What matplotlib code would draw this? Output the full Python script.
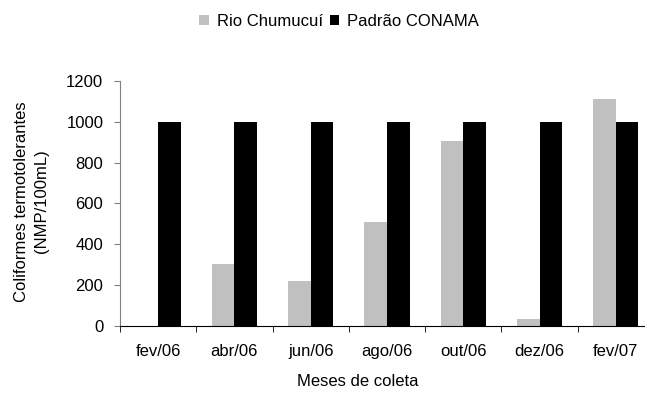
import numpy as np
import matplotlib
matplotlib.use('Agg')
import matplotlib.pyplot as plt

plt.rcParams['font.family'] = ['Liberation Sans', 'DejaVu Sans']

# dados
meses = ['fev/06', 'abr/06', 'jun/06', 'ago/06', 'out/06', 'dez/06', 'fev/07']
rio_chumucui = [0, 300, 220, 510, 905, 30, 1110]
padrao_conama = [1000, 1000, 1000, 1000, 1000, 1000, 1000]
y_ticks = [0, 200, 400, 600, 800, 1000, 1200]

CINZA = '#C0C0C0'
PRETO = '#000000'
FS = 12

fig = plt.figure(figsize=(6.45, 3.99), dpi=100)
ax = fig.add_axes([0.186, 0.184, 0.828, 0.613])

x = np.arange(len(meses))
w = 0.295
ax.bar(x - w / 2, rio_chumucui, w, color=CINZA, label='Rio Chumucuí')
ax.bar(x + w / 2, padrao_conama, w, color=PRETO, label='Padrão CONAMA')

ax.set_xlim(-0.5, len(meses) - 0.5)
ax.set_ylim(0, 1200)
ax.set_yticks(y_ticks)
ax.set_xticks(x)
ax.set_xticklabels(meses, fontsize=FS)
ax.tick_params(axis='x', length=0, pad=13)
ax.set_xticks(np.arange(len(meses) + 1) - 0.5, minor=True)
ax.tick_params(axis='x', which='minor', length=4, direction='out', color=PRETO)
ax.tick_params(axis='y', length=4, direction='out', labelsize=FS, color='#808080', pad=8)

for s in ['top', 'right']:
    ax.spines[s].set_visible(False)
ax.spines['left'].set_color('#808080')
ax.spines['bottom'].set_color(PRETO)

ax.set_ylabel('Coliformes termotolerantes\n(NMP/100mL)', fontsize=FS, linespacing=1.45)
ax.yaxis.set_label_coords(-0.132, 0.508)
ax.set_xlabel('Meses de coleta', fontsize=FS)
ax.xaxis.set_label_coords(0.446, -0.228)
ax.xaxis.label.set_va('center')

fig.legend(loc='center', bbox_to_anchor=(0.526, 0.947),
           ncol=2, frameon=False, fontsize=FS,
           handlelength=0.55, handleheight=0.55, handletextpad=0.5,
           columnspacing=0.4, borderpad=0)

fig.savefig('out.png', dpi=100)
